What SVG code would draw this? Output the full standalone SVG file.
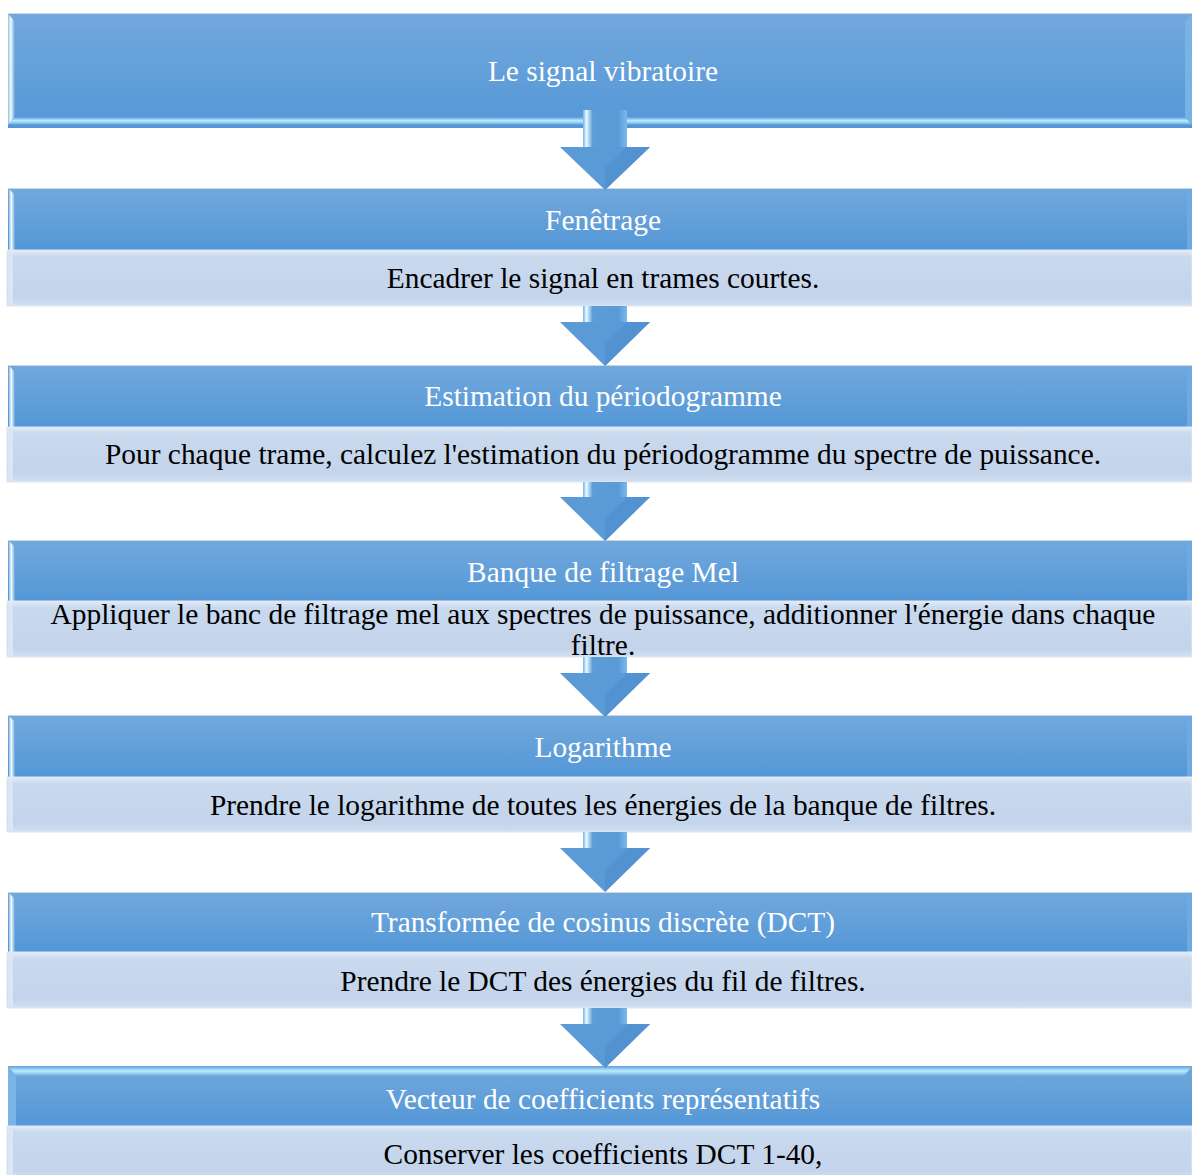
<svg xmlns="http://www.w3.org/2000/svg" width="1192" height="1175" viewBox="0 0 1192 1175">
<defs>
<linearGradient id="gTitle" x1="0" y1="0" x2="0" y2="1">
<stop offset="0" stop-color="#72a8dc"/>
<stop offset="1" stop-color="#5497d7"/>
</linearGradient>
<linearGradient id="gLeft" x1="0" y1="0" x2="1" y2="0">
<stop offset="0" stop-color="#8cc0e8"/>
<stop offset="0.4" stop-color="#f4fcff"/>
<stop offset="1" stop-color="#62a0da"/>
</linearGradient>
<linearGradient id="gBot" x1="0" y1="0" x2="0" y2="1">
<stop offset="0" stop-color="#5a9bd8"/>
<stop offset="0.45" stop-color="#b8ecff"/>
<stop offset="0.75" stop-color="#8fc8f0"/>
<stop offset="1" stop-color="#5496d6"/>
</linearGradient>
<linearGradient id="gTopStrip" x1="0" y1="0" x2="0" y2="1">
<stop offset="0" stop-color="#5f9ed8"/>
<stop offset="0.5" stop-color="#b8ecff"/>
<stop offset="1" stop-color="#70aae0"/>
</linearGradient>
<linearGradient id="gShaft" x1="0" y1="0" x2="1" y2="0">
<stop offset="0" stop-color="#79b4e6"/>
<stop offset="0.08" stop-color="#e8fbff"/>
<stop offset="0.22" stop-color="#5d9cd8"/>
<stop offset="0.8" stop-color="#5a9ad7"/>
<stop offset="1" stop-color="#7cb8ea"/>
</linearGradient>
<linearGradient id="gDesc" x1="0" y1="0" x2="0" y2="1">
<stop offset="0" stop-color="#e4edf8"/>
<stop offset="0.12" stop-color="#c9d9ee"/>
<stop offset="0.85" stop-color="#c3d4eb"/>
<stop offset="1" stop-color="#d3e0f2"/>
</linearGradient>
</defs>
<style>
.title{fill:url(#gTitle);}
.desc{fill:url(#gDesc);stroke:#e0e8f3;stroke-width:1;}
.lstrip{fill:url(#gLeft);}
.rstrip{fill:#6eaae2;}
.dl{fill:#dbe6f4;}
.tt{font-family:"Liberation Serif","Times New Roman",serif;font-size:29.4px;fill:#ffffff;text-anchor:middle;}
.td{font-family:"Liberation Serif","Times New Roman",serif;font-size:29.4px;fill:#000000;text-anchor:middle;}
.shaft{fill:url(#gShaft);}
.head{fill:#5a9ad7;}
.headR{fill:#5292d0;}
</style>

<g id="node-signal">
<rect class="title" x="8" y="13" width="1184" height="115"/>
<rect x="8" y="13" width="1184" height="1" fill="#c9d6e6"/>
<polygon class="lstrip" points="8,14 15,21 15,117 8,125"/>
<polygon points="1185,21 1192,14 1192,125 1185,117" fill="#78b2e6"/>
<polygon points="8,125 15,117 1185,117 1192,125" fill="url(#gBot)"/>
<rect x="8" y="125" width="1184" height="3" fill="#5495d4"/>
<text class="tt" x="603" y="81">Le signal vibratoire</text>
</g>

<g id="node-fenetrage">
<rect class="title" x="8" y="188" width="1184" height="62"/>
<rect x="8" y="188" width="1184" height="1" fill="#c9d6e6"/>
<polygon class="lstrip" points="9,189 15,195 15,250 9,250"/>
<rect class="rstrip" x="1187" y="190" width="5" height="60"/>
<rect class="desc" x="7" y="250" width="1185" height="56"/>
<rect class="dl" x="8" y="252" width="5" height="53"/>
<text class="tt" x="603" y="230">Fenêtrage</text>
<text class="td" x="603" y="288">Encadrer le signal en trames courtes.</text>
</g>

<g id="node-periodogramme">
<rect class="title" x="8" y="365" width="1184" height="62"/>
<rect x="8" y="365" width="1184" height="1" fill="#c9d6e6"/>
<polygon class="lstrip" points="9,366 15,372 15,427 9,427"/>
<rect class="rstrip" x="1187" y="367" width="5" height="60"/>
<rect class="desc" x="7" y="427" width="1185" height="55"/>
<rect class="dl" x="8" y="429" width="5" height="52"/>
<text class="tt" x="603" y="406">Estimation du périodogramme</text>
<text class="td" x="603" y="464">Pour chaque trame, calculez l'estimation du périodogramme du spectre de puissance.</text>
</g>

<g id="node-mel">
<rect class="title" x="8" y="540" width="1184" height="61"/>
<rect x="8" y="540" width="1184" height="1" fill="#c9d6e6"/>
<polygon class="lstrip" points="9,541 15,547 15,601 9,601"/>
<rect class="rstrip" x="1187" y="542" width="5" height="59"/>
<rect class="desc" x="7" y="601" width="1185" height="56"/>
<rect class="dl" x="8" y="603" width="5" height="53"/>
<text class="tt" x="603" y="582">Banque de filtrage Mel</text>
<text class="td" x="603" y="624">Appliquer le banc de filtrage mel aux spectres de puissance, additionner l'énergie dans chaque</text>
<text class="td" x="603" y="655">filtre.</text>
</g>

<g id="node-log">
<rect class="title" x="8" y="715" width="1184" height="62"/>
<rect x="8" y="715" width="1184" height="1" fill="#c9d6e6"/>
<polygon class="lstrip" points="9,716 15,722 15,777 9,777"/>
<rect class="rstrip" x="1187" y="717" width="5" height="60"/>
<rect class="desc" x="7" y="777" width="1185" height="55"/>
<rect class="dl" x="8" y="779" width="5" height="52"/>
<text class="tt" x="603" y="757">Logarithme</text>
<text class="td" x="603" y="815">Prendre le logarithme de toutes les énergies de la banque de filtres.</text>
</g>

<g id="node-dct">
<rect class="title" x="8" y="892" width="1184" height="60"/>
<rect x="8" y="892" width="1184" height="1" fill="#c9d6e6"/>
<polygon class="lstrip" points="9,893 15,899 15,952 9,952"/>
<rect class="rstrip" x="1187" y="894" width="5" height="58"/>
<rect class="desc" x="7" y="952" width="1185" height="56"/>
<rect class="dl" x="8" y="954" width="5" height="53"/>
<text class="tt" x="603" y="932">Transformée de cosinus discrète (DCT)</text>
<text class="td" x="603" y="991">Prendre le DCT des énergies du fil de filtres.</text>
</g>

<g id="node-vecteur">
<rect class="title" x="8" y="1066" width="1184" height="60"/>
<polygon points="8,1066 1192,1066 1184,1076 16,1076" fill="url(#gTopStrip)"/>
<polygon points="8,1066 16,1076 16,1126 8,1126" fill="#7ab4e6"/>
<rect class="desc" x="7" y="1126" width="1185" height="52"/>
<rect class="dl" x="8" y="1128" width="5" height="47"/>
<text class="tt" x="603" y="1109">Vecteur de coefficients représentatifs</text>
<text class="td" x="603" y="1164">Conserver les coefficients DCT 1-40,</text>
</g>

<g id="connectors">
<g>
<rect class="shaft" x="583" y="110" width="44" height="38"/>
<polygon class="head" points="560,147 650,147 605,190"/>
<polygon class="headR" points="605,168 627,147 650,147 605,190"/>
</g>
<g>
<rect class="shaft" x="583" y="306" width="44" height="17"/>
<polygon class="head" points="560,322 650,322 605,366"/>
<polygon class="headR" points="605,344 627,322 650,322 605,366"/>
</g>
<g>
<rect class="shaft" x="583" y="482" width="44" height="16"/>
<polygon class="head" points="560,497 650,497 605,541"/>
<polygon class="headR" points="605,519 627,497 650,497 605,541"/>
</g>
<g>
<rect class="shaft" x="583" y="657" width="44" height="17"/>
<polygon class="head" points="560,673 650,673 605,717"/>
<polygon class="headR" points="605,695 627,673 650,673 605,717"/>
</g>
<g>
<rect class="shaft" x="583" y="832" width="44" height="17"/>
<polygon class="head" points="560,848 650,848 605,892"/>
<polygon class="headR" points="605,870 627,848 650,848 605,892"/>
</g>
<g>
<rect class="shaft" x="583" y="1008" width="44" height="17"/>
<polygon class="head" points="560,1024 650,1024 605,1068"/>
<polygon class="headR" points="605,1046 627,1024 650,1024 605,1068"/>
</g>
</g>
</svg>
